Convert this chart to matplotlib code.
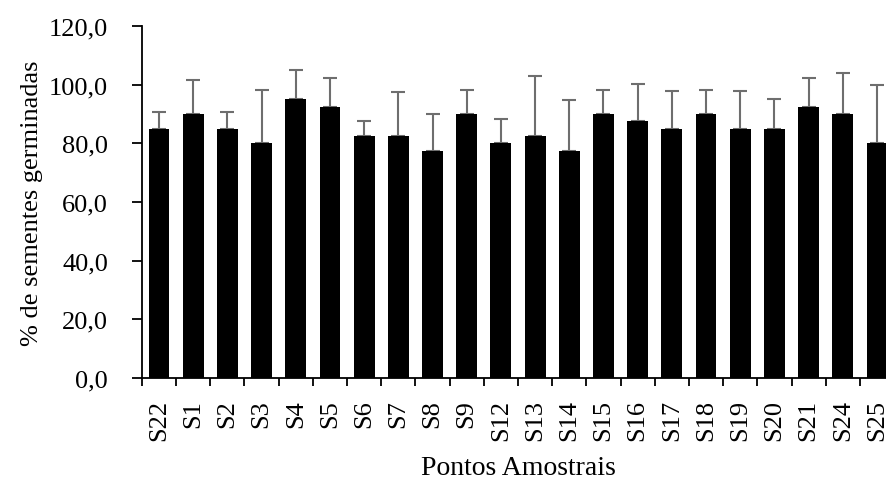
import numpy as np
import matplotlib
matplotlib.use("Agg")
import matplotlib.pyplot as plt
from matplotlib.ticker import FixedLocator

# germination data per sampling point
pontos = ["S22", "S1", "S2", "S3", "S4", "S5", "S6", "S7", "S8", "S9",
          "S12", "S13", "S14", "S15", "S16", "S17", "S18", "S19", "S20",
          "S21", "S24", "S25"]
media = [85.0, 90.0, 85.0, 80.0, 95.0, 92.5, 82.5, 82.5, 77.5, 90.0,
         80.0, 82.5, 77.5, 90.0, 87.5, 85.0, 90.0, 85.0, 85.0,
         92.5, 90.0, 80.0]
desvio = [5.8, 11.5, 5.8, 18.3, 10.0, 9.6, 5.0, 15.0, 12.6, 8.2,
          8.2, 20.6, 17.1, 8.2, 12.6, 12.9, 8.2, 12.9, 10.0,
          9.6, 14.1, 20.0]
yticks = [0, 20, 40, 60, 80, 100, 120]

plt.rcParams['font.family'] = ['Liberation Serif', 'DejaVu Serif']

fig = plt.figure(figsize=(8.87, 4.81), dpi=100)
ax = fig.add_axes([0.160, 0.212, 0.848, 0.732])

x = np.arange(len(pontos))
ax.bar(x, media, width=0.61, color='black', zorder=2)
ax.errorbar(x, media, yerr=[np.zeros(len(desvio)), desvio], fmt='none',
            ecolor='#6e6e6e', elinewidth=1.5, capsize=5, capthick=1.5, zorder=1)

ax.set_xlim(-0.5, len(pontos) - 0.5)
ax.set_ylim(0, 120)
ax.set_yticks(yticks)
ax.set_yticklabels([f"{v:.1f}".replace('.', ',') for v in yticks], fontsize=19)

ax.set_xticks(x)
ax.set_xticklabels(pontos, rotation=90, fontsize=19)
ax.xaxis.set_minor_locator(FixedLocator(np.arange(len(pontos) + 1) - 0.5))
ax.tick_params(axis='x', which='major', length=0, pad=15)
ax.tick_params(axis='x', which='minor', length=6, width=1.3, direction='out')
ax.tick_params(axis='y', length=7, width=1.3, direction='out', pad=17.5)

for s in ['top', 'right']:
    ax.spines[s].set_visible(False)
for s in ['left', 'bottom']:
    ax.spines[s].set_linewidth(1.3)

ax.set_ylabel("% de sementes germinadas", fontsize=19)
ax.yaxis.set_label_coords(-0.1316, 0.5)
ax.set_xlabel("Pontos Amostrais", fontsize=20, va='top')
ax.xaxis.set_label_coords(0.5, -0.219)

fig.savefig("out.png", dpi=100)
